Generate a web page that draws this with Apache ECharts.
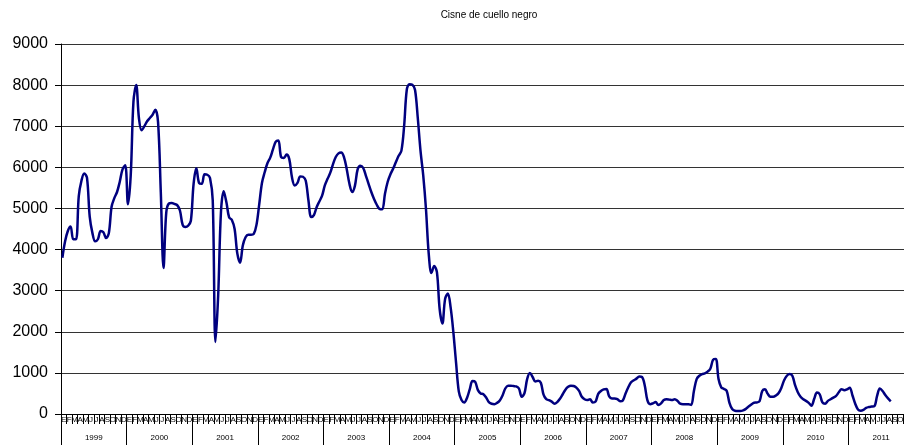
<!DOCTYPE html>
<html>
<head>
<meta charset="utf-8">
<script src="https://cdn.jsdelivr.net/npm/echarts@6/dist/echarts.min.js"></script>
<style>
  html, body { margin: 0; padding: 0; background: #fff; }
  #chart { width: 904px; height: 445px; }
</style>
</head>
<body>
<div id="chart"></div>
<script>
// conteo quincenal (2 valores por mes)
var years = ['1999', '2000', '2001', '2002', '2003', '2004', '2005', '2006', '2007', '2008', '2009', '2010', '2011']
var monthLetters = ['E', 'F', 'M', 'A', 'M', 'J', 'J', 'A', 'S', 'O', 'N', 'D']

var y1999 = [3800, 4200, 4450, 4560, 4250, 4250, 5300, 5680, 5850, 5750, 4800, 4400, 4200, 4250, 4450, 4420, 4280, 4400, 5040, 5250, 5400, 5650, 5950, 6050]
var y2000 = [5100, 5800, 7600, 8000, 7200, 6900, 7000, 7120, 7200, 7280, 7400, 7100, 5400, 3550, 4900, 5120, 5130, 5110, 5080, 4950, 4600, 4550, 4580, 4700]
var y2001 = [5600, 5980, 5620, 5600, 5830, 5820, 5740, 5200, 1750, 2900, 4900, 5420, 5150, 4780, 4720, 4500, 3900, 3680, 4100, 4300, 4360, 4360, 4380, 4600]
var y2002 = [5100, 5620, 5880, 6100, 6230, 6430, 6620, 6650, 6250, 6230, 6310, 6200, 5750, 5560, 5620, 5780, 5770, 5680, 5200, 4790, 4840, 5030, 5170, 5310]
var y2003 = [5560, 5720, 5870, 6080, 6250, 6340, 6360, 6250, 5960, 5600, 5400, 5550, 5950, 6040, 5990, 5800, 5600, 5400, 5230, 5090, 4990, 4980, 5360, 5650]
var y2004 = [5830, 5970, 6130, 6280, 6400, 7000, 7900, 8020, 8010, 7880, 7200, 6400, 5800, 4980, 3900, 3430, 3600, 3450, 2550, 2200, 2800, 2930, 2600, 2000]
var y2005 = [1250, 550, 340, 280, 390, 600, 800, 780, 580, 500, 480, 400, 290, 250, 240, 270, 330, 450, 620, 690, 690, 680, 670, 620]
var y2006 = [420, 500, 850, 1000, 900, 790, 810, 760, 470, 360, 335, 300, 250, 290, 370, 480, 590, 660, 690, 680, 640, 560, 420, 360]
var y2007 = [340, 360, 280, 300, 490, 560, 600, 610, 430, 380, 380, 360, 310, 330, 500, 650, 770, 820, 860, 910, 900, 700, 330, 240]
var y2008 = [260, 290, 220, 260, 340, 360, 350, 340, 360, 320, 250, 240, 240, 240, 220, 560, 850, 930, 970, 990, 1030, 1100, 1320, 1340]
var y2009 = [850, 650, 610, 560, 270, 120, 80, 75, 75, 90, 125, 180, 230, 275, 280, 310, 560, 600, 490, 420, 420, 450, 510, 640]
var y2010 = [820, 930, 970, 930, 700, 530, 420, 360, 320, 270, 200, 370, 520, 480, 280, 250, 320, 360, 400, 440, 530, 600, 580, 600]
var y2011 = [640, 450, 250, 110, 80, 100, 150, 170, 180, 190, 440, 620, 560, 460, 380, 310]

var values = [].concat(y1999, y2000, y2001, y2002, y2003, y2004, y2005, y2006, y2007, y2008, y2009, y2010, y2011)

var halfMonths = []
var months = []
years.forEach(function (y) {
    monthLetters.forEach(function (m, i) {
        months.push(m)
        halfMonths.push(y + '-' + (i + 1) + 'a', y + '-' + (i + 1) + 'b')
    })
})

var font = 'Liberation Sans, Arial, sans-serif'
var chart = echarts.init(document.getElementById('chart'))
chart.setOption({
    animation: false,
    title: {
        text: 'Cisne de cuello negro',
        left: 484, top: 5, textAlign: 'center',
        textStyle: { fontFamily: font, fontSize: 10, fontWeight: 'normal', color: '#000' }
    },
    // el último año queda cortado por el borde derecho, como en el original
    grid: { left: 61, top: 44, height: 370, width: 853, containLabel: false, outerBoundsMode: 'none' },
    xAxis: [{
        type: 'category', data: halfMonths, position: 'bottom',
        axisLine: { show: false }, axisTick: { show: false }, axisLabel: { show: false }
    }, {
        type: 'category', data: months, position: 'bottom', offset: 0,
        axisLine: { show: true, lineStyle: { color: '#000', width: 1 } },
        axisTick: { show: true, length: 10, lineStyle: { color: '#000' } },
        axisLabel: { interval: 0, margin: 2, fontFamily: font, fontSize: 8, color: '#000' }
    }, {
        type: 'category', data: years, position: 'bottom', offset: 0,
        axisLine: { show: false },
        axisTick: { show: true, length: 31, lineStyle: { color: '#000' } },
        axisLabel: { interval: 0, margin: 20, fontFamily: font, fontSize: 8, color: '#000' }
    }],
    yAxis: {
        type: 'value', min: 0, max: 9000, interval: 1000,
        axisLine: { show: true, lineStyle: { color: '#000' } },
        axisTick: { show: true, length: 6, lineStyle: { color: '#000' } },
        axisLabel: {
            margin: 13, fontFamily: font, fontSize: 16, color: '#000',
            formatter: function (v) { return String(v) }
        },
        splitLine: { lineStyle: { color: '#333', width: 1 } }
    },
    series: [{
        type: 'line', xAxisIndex: 0, data: values,
        smooth: 0.35, showSymbol: false,
        lineStyle: { color: '#00007f', width: 2.5 }
    }]
})
</script>
</body>
</html>
